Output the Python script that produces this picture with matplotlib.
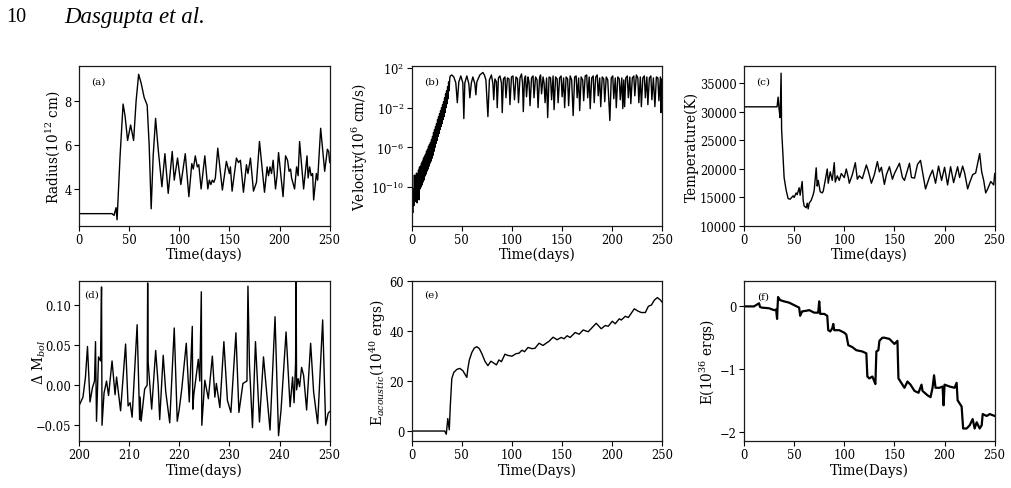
import numpy as np
import matplotlib
matplotlib.use("Agg")
import matplotlib.pyplot as plt

plt.rcParams['font.family'] = ['DejaVu Serif']
plt.rcParams['mathtext.fontset'] = 'dejavuserif'
plt.rcParams['font.size'] = 8

# ---------------- (a) Radius ----------------
radius_t = [0, 33, 35, 37, 38, 41, 44, 46, 48.5, 51.5, 54.5, 57, 59.5, 62, 65, 68, 70, 72, 74, 76.4,
            79, 82.7, 85.7, 89, 93, 95, 98.3, 101.6, 106, 109.6, 112.5, 114, 116, 118, 119.5, 121.8,
            125.5, 128.5, 130, 131.5, 133, 134.5, 136, 138.4, 143, 147, 150, 151, 152.7, 157, 159,
            161, 164, 167, 168.5, 171, 174, 175.5, 177, 180, 185, 187.6, 189, 190.5, 192, 193.6, 196,
            197.5, 199, 203.5, 206, 208, 209.5, 211, 212, 215, 217, 218.5, 220, 224, 227.4, 228.5,
            230, 231.5, 233, 234, 236.7, 238, 241, 245, 247.7, 249, 250]
radius_v = [2.88, 2.88, 2.8, 3.15, 2.6, 5.5, 7.85, 7.3, 6.2, 6.9, 6.2, 8.0, 9.2, 8.8, 8.15, 7.8, 6.0,
            3.1, 5.5, 7.2, 5.8, 4.1, 5.6, 3.8, 5.7, 4.4, 5.4, 4.2, 5.6, 3.65, 5.15, 4.9, 5.5, 5.0, 5.1,
            4.0, 5.5, 4.0, 4.4, 4.2, 4.4, 4.3, 4.5, 5.85, 3.95, 5.25, 4.7, 5.0, 3.9, 5.4, 5.2, 5.3,
            3.85, 5.1, 4.7, 5.4, 3.9, 4.1, 4.3, 6.15, 3.85, 5.0, 4.6, 5.0, 4.7, 5.3, 4.0, 4.6, 5.65,
            3.65, 5.5, 5.3, 4.8, 4.9, 4.5, 4.0, 5.0, 4.6, 6.15, 4.0, 5.5, 4.5, 5.0, 4.6, 4.7, 3.5,
            4.7, 4.4, 6.75, 4.8, 5.8, 5.7, 5.2]

# ---------------- (b) Velocity (log10 of value) ----------------
vel_t = [0, 0.6, 1.1, 1.6, 2.1, 2.7, 3.2, 3.7, 4.2, 4.8, 5.3, 5.8, 6.3, 6.8, 7.3, 7.8, 8.3, 8.8, 9.3,
         9.8, 10.3, 10.8, 11.3, 11.8, 12.3, 12.8, 13.3, 13.8, 14.3, 14.8, 15.3, 15.8, 16.3, 16.8,
         17.3, 17.8, 18.3, 18.8, 19.3, 19.8, 20.3, 20.8, 21.3, 21.8, 22.3, 22.8, 23.3, 23.8, 24.3,
         24.8, 25.3, 25.8, 26.3, 26.8, 27.3, 27.8, 28.3, 28.8, 29.3, 29.8, 30.3, 30.8, 31.3, 31.8,
         32.3, 32.8, 33.3, 33.8, 34.3, 34.8, 35.3, 35.8, 36.3, 36.8, 37.3, 38,
         38.5, 40, 42, 44, 45.5, 47, 49, 51, 52, 53, 55, 57, 58, 59.5, 61, 63, 64, 65, 68, 71, 72.5,
         74, 76, 77.5, 79.5, 81, 81.8, 83, 84.5, 85.3, 86.5, 88, 89.5, 90.3, 91.5, 93, 94, 95.5, 97,
         98, 99.5, 101, 102.5, 104, 105.5, 106.5, 108, 109.5, 110.5, 111.3, 112.5, 113.5, 114.5,
         116, 117, 118, 119.5, 121, 122, 123.5, 125, 126, 127.5, 128.5, 129.5, 131, 132, 133, 134.5,
         135.6, 137, 138.5, 139.5, 141, 142, 143.5, 145, 146, 147.5, 149, 150, 151.5, 152.5, 154,
         155.5, 156.5, 158, 159.5, 161, 162.5, 164, 165, 166.5, 167.5, 169, 170.5, 171.5, 173,
         174.5, 175.5, 177, 178, 179.5, 181, 182, 183.5, 185, 186, 187.5, 188.5, 190, 191.5, 192.5,
         194, 195.5, 197.6, 199, 200.5, 201.5, 203, 204, 205.5, 207, 208, 209.5, 210.5, 211.5,
         212.3, 213.5, 215, 216, 217.5, 218.5, 220, 221.5, 222.5, 224, 225.5, 226.5, 228, 229,
         230.5, 232, 233, 234.5, 235.5, 237, 238.5, 239.5, 241, 242.5, 244, 245.5, 246.5, 248,
         248.5, 249.3, 250]
vel_log = [-13.2, -11.8, -12.6, -10.2, -11.9, -8.8, -11.5, -8.9, -11.0, -8.6, -11.6, -8.7, -10.5,
           -8.3, -11.3, -8.0, -10.2, -7.9, -10.0, -7.6, -9.8, -7.4, -9.5, -7.1, -9.3, -6.9, -8.9,
           -6.7, -8.7, -6.4, -8.4, -6.2, -8.2, -5.9, -7.9, -5.7, -7.6, -5.5, -7.4, -5.2, -7.1, -4.9,
           -6.8, -4.5, -6.4, -4.2, -6.0, -3.9, -5.6, -3.6, -5.3, -3.2, -4.9, -2.9, -4.6, -2.6, -4.2,
           -2.3, -3.9, -2.0, -3.6, -1.7, -3.2, -1.4, -2.9, -1.0, -2.5, -0.6, -2.0, -0.3, -1.6, 0.1,
           -1.1, 0.6, -0.3, 1.0,
           1.2, 1.3, 1.1, 0.5, -1.5, 0.6, 1.2, 0.5, -3.1, 0.5, 1.2, 0.4, -1.0, 0.5, 1.1, 0.4, -0.7,
           0.6, 1.3, 1.55, 1.3, 0.8, -2.9, 0.8, 1.3, 0.4, -1.2, 0.9, 0.6, -2.0, 1.0, 1.2, 0.5, -2.5,
           0.9, 1.1, -1.0, 1.0, 0.9, -1.7, 1.1, 1.2, -1.2, 1.1, 0.9, -1.5, 1.0, 1.4, 0.5, -2.4, 0.9,
           1.2, -0.9, 1.1, 0.6, -1.8, 1.0, 1.2, -1.0, 1.1, 0.8, -2.0, 1.0, 1.3, -0.6, 1.1, 0.5, -1.5,
           1.0, -3.0, 1.1, 1.0, -1.2, 1.2, -2.2, 1.1, 0.9, -1.5, 1.0, 1.2, -0.9, 1.0, -2.0, 1.1, 0.9,
           -1.8, 1.2, 0.8, -2.8, 1.1, 1.2, -1.0, 1.0, -2.3, 1.1, 0.8, -1.3, 1.2, 1.3, -1.0, 1.1, -2.1,
           1.0, 1.2, -1.5, 1.1, 1.3, -0.8, 1.0, -1.9, 1.1, 0.9, -1.4, 1.1, 0.8, -3.3, 1.0, 1.2, -1.1,
           1.0, -2.0, 1.1, 0.9, -1.2, 1.0, -2.1, 0.8, -1.9, 1.0, 1.2, -1.0, 1.1, -1.6, 1.0, 1.2, -0.8,
           1.3, 1.0, -1.5, 1.1, -1.9, 1.0, 1.2, -1.0, 1.1, -1.7, 1.0, 1.2, -1.2, 1.0, -1.9, 1.1, 1.0,
           -1.3, 1.1, -2.5, 0.9, 0.5]

# ---------------- (c) Temperature ----------------
temp_t = [0, 33, 34, 35, 36, 37, 37.5, 40, 42, 44, 46, 49, 50, 52, 53, 55, 56, 58, 59, 60, 62, 63, 64,
          65, 67, 69, 70, 72, 73, 74, 76, 78, 79, 81, 83, 84, 86, 88, 90, 91, 93, 95, 97, 100, 102,
          104, 105, 108, 111, 113, 115, 118, 122, 124, 127, 130, 133, 135, 137, 140, 142, 145, 148,
          150, 155, 158, 160, 165, 167, 170, 173, 176, 178, 181, 185, 188, 191, 194, 197, 200, 203,
          206, 209, 213, 215, 218, 220, 223, 225, 228, 231, 235, 237, 239, 241, 243, 246, 249, 250]
temp_v = [30900, 30900, 32600, 30500, 29000, 36800, 27000, 18500, 16300, 14800, 14700, 15300, 15000,
          15800, 15500, 16700, 15400, 17800, 14500, 13500, 13200, 14000, 13000, 14000, 14500, 15500,
          16300, 20200, 17000, 18000, 16000, 15800, 16100, 18000, 20000, 17500, 19500, 18000, 21100,
          17700, 18800, 18000, 19200, 18500, 20000, 18500, 17500, 19000, 21100, 18200, 18800, 18300,
          20700, 19600, 17500, 19000, 21300, 19500, 20300, 17300, 19000, 20400, 18200, 19200, 21000,
          18500, 18000, 21000, 18500, 18400, 20800, 21500, 19500, 16500, 18600, 19800, 17500, 20500,
          18000, 20300, 17200, 20400, 17600, 20400, 18500, 20500, 19300, 16500, 17600, 19000, 19300,
          22700, 19500, 18000, 15800, 16500, 17800, 17200, 19200]

# ---------------- (d) Delta M_bol ----------------
mbol_t = [200.0, 200.8, 201.3, 201.7, 202.2, 202.7, 203.1, 203.3, 203.5, 203.9, 204.3, 204.5, 204.6,
          205.0, 205.5, 205.9, 206.6, 207.2, 207.5, 208.3, 209.3, 209.8, 210.2, 210.6, 211.6, 212.1,
          212.2, 212.4, 213.1, 213.6, 213.7, 213.8, 214.5, 215.3, 215.8, 216.1, 216.8, 217.3, 218.1,
          219.0, 219.6, 220.0, 220.5, 221.4, 222.0, 222.6, 222.7, 222.9, 223.8, 224.1, 224.4, 224.5,
          225.1, 225.8, 226.6, 227.1, 227.4, 228.1, 228.9, 229.6, 230.3, 231.3, 231.9, 232.7, 233.5,
          233.7, 234.0, 234.6, 235.2, 236.0, 236.8, 237.3, 238.1, 239.1, 239.8, 240.3, 241.3, 242.1,
          242.6, 242.9, 243.2, 243.3, 243.4, 243.7, 244.0, 244.4, 244.8, 245.4, 246.2, 246.8, 247.6,
          248.6, 249.2, 249.7, 250.0]
mbol_v = [-0.026, -0.015, 0.010, 0.048, -0.021, -0.003, 0.005, 0.054, -0.045, 0.035, 0.030, 0.122,
          -0.050, -0.010, 0.005, -0.013, 0.030, -0.012, 0.010, -0.032, 0.051, -0.026, -0.022, -0.040,
          0.075, -0.043, -0.015, -0.045, -0.005, 0.000, 0.127, 0.028, -0.030, 0.043, 0.000, -0.043,
          0.037, -0.008, -0.047, 0.071, -0.045, -0.030, -0.005, 0.052, -0.021, 0.073, -0.030, -0.012,
          0.032, 0.005, 0.116, -0.050, 0.006, -0.017, 0.036, -0.015, 0.002, -0.028, 0.054, -0.019,
          -0.034, 0.065, -0.034, 0.002, 0.005, 0.123, 0.025, -0.053, 0.054, -0.046, 0.035, 0.000,
          -0.056, 0.085, -0.063, -0.031, 0.066, -0.027, 0.010, -0.022, 0.027, 0.140, -0.006, 0.008,
          -0.002, 0.022, 0.012, -0.031, 0.052, -0.009, -0.048, 0.081, -0.050, -0.035, -0.033]

# ---------------- (e) Acoustic energy ----------------
eac_t = [0, 33, 34.5, 36, 37.5, 38.5, 40, 42, 45, 48, 51, 53.5, 55, 56, 57.5, 60, 62.5, 65, 67.5, 70,
         73, 76, 79, 82, 84.5, 87, 89.5, 93, 96, 100, 104, 107, 110, 112.5, 116, 120, 123, 127, 131,
         134, 137, 141, 145, 149, 152, 155, 158, 163, 167, 171, 176, 180, 184, 189, 193, 196, 200,
         203, 207, 209, 213, 216, 222, 226, 229, 233, 236, 239, 242, 245, 248, 250]
eac_v = [0, 0, -1.3, 5.0, 0.5, 10, 21, 23.5, 24.7, 25.1, 24.2, 22.5, 21.5, 25, 28.5, 31.5, 33.3, 33.8,
         33.0, 31.0, 28.0, 26.2, 28.0, 27.2, 26.5, 28.5, 27.8, 30.8, 30.3, 30.0, 31.0, 31.2, 32.4,
         31.8, 33.5, 33.0, 33.2, 35.2, 34.3, 35.2, 36.0, 37.6, 36.6, 37.5, 37.0, 38.2, 37.5, 39.5,
         38.8, 40.5, 39.8, 41.5, 43.2, 41.0, 42.3, 42.0, 44.0, 43.0, 45.0, 44.5, 46.0, 45.5, 49.0,
         48.0, 47.5, 47.5, 50.0, 50.5, 52.5, 53.5, 52.5, 51.5]

# ---------------- (f) Energy ----------------
en_t = [0, 10, 15, 16, 18, 25, 30, 32, 33, 33.5, 34, 36, 40, 45, 50, 55, 56, 58, 62, 65, 70, 74, 75,
        76, 80, 83, 84, 86, 88, 89, 90, 95, 100, 102, 104, 108, 112, 118, 122, 123, 125, 128, 130,
        131, 132, 134, 135, 138, 140, 145, 150, 153, 154, 156, 160, 163, 166, 170, 174, 177, 178,
        183, 186, 188, 189.5, 191, 195, 198, 199, 200, 205, 210, 212, 213, 217, 218.5, 222, 225,
        228, 230, 232, 235, 237, 238, 242, 245, 250]
en_v = [0.0, 0.0, 0.05, -0.01, -0.02, -0.03, -0.06, -0.05, -0.2, 0.0, 0.15, 0.1, 0.08, 0.06, 0.02,
        -0.02, -0.15, -0.08, -0.07, -0.06, -0.1, -0.1, 0.08, -0.12, -0.12, -0.15, -0.38, -0.4,
        -0.35, -0.28, -0.38, -0.38, -0.42, -0.45, -0.62, -0.65, -0.7, -0.72, -0.75, -1.12, -1.15,
        -1.12, -1.2, -1.24, -0.72, -0.7, -0.55, -0.5, -0.5, -0.52, -0.6, -0.55, -1.15, -1.2, -1.3,
        -1.2, -1.25, -1.35, -1.38, -1.25, -1.35, -1.42, -1.45, -1.3, -1.1, -1.3, -1.3, -1.28,
        -1.58, -1.25, -1.28, -1.3, -1.22, -1.5, -1.6, -1.95, -1.95, -1.9, -1.8, -1.95, -1.85,
        -1.95, -1.9, -1.72, -1.75, -1.72, -1.75]

fig = plt.figure(figsize=(10.11, 4.89), dpi=100)

W = 0.2480
H = 0.3265
lefts = [0.0781, 0.4072, 0.7359]
bottoms = [0.5358, 0.0961]
axs = [[fig.add_axes([l, b, W, H]) for l in lefts] for b in bottoms]

TICK_FS = 8.3
LAB_FS = 9.8


def style(ax, tag, ylab_x, xlab_y, tx=0.05, ty=0.91):
    for s in ax.spines.values():
        s.set_linewidth(0.9)
        s.set_color('#1a1a1a')
    ax.tick_params(direction='out', length=3.5, width=0.8, labelsize=TICK_FS,
                   top=False, right=False, pad=1.8)
    ax.text(tx, ty, tag, transform=ax.transAxes, fontsize=7.5, va='center', ha='left')
    ax.yaxis.set_label_coords(ylab_x, 0.5)
    ax.yaxis.label.set_va('center')
    ax.xaxis.set_label_coords(0.5, xlab_y)
    ax.xaxis.label.set_va('center')


lw = 1.0
ticks250 = [0, 50, 100, 150, 200, 250]

# (a)
ax = axs[0][0]
ax.plot(radius_t, radius_v, color='black', lw=lw)
ax.set_xlim(0, 250)
ax.set_ylim(2.32, 9.56)
ax.set_xticks(ticks250)
ax.set_yticks([4, 6, 8])
ax.set_xlabel('Time(days)', fontsize=LAB_FS)
ax.set_ylabel('Radius(10$^{12}$ cm)', fontsize=LAB_FS)
style(ax, '(a)', -0.104, -0.175)

# (b)
ax = axs[0][1]
ax.plot(vel_t, 10.0 ** np.array(vel_log), color='black', lw=lw)
ax.set_yscale('log')
ax.set_xlim(0, 250)
ax.set_ylim(10 ** -13.94, 10 ** 2.17)
ax.set_yticks([1e-10, 1e-6, 1e-2, 1e2])
ax.minorticks_off()
ax.set_xticks(ticks250)
ax.set_xlabel('Time(days)', fontsize=LAB_FS)
ax.set_ylabel('Velocity(10$^{6}$ cm/s)', fontsize=LAB_FS)
style(ax, '(b)', -0.205, -0.175)

# (c)
ax = axs[0][2]
ax.plot(temp_t, temp_v, color='black', lw=lw)
ax.set_xlim(0, 250)
ax.set_ylim(10000, 38000)
ax.set_yticks([10000, 15000, 20000, 25000, 30000, 35000])
ax.set_xticks(ticks250)
ax.set_xlabel('Time(days)', fontsize=LAB_FS)
ax.set_ylabel('Temperature(K)', fontsize=LAB_FS)
style(ax, '(c)', -0.207, -0.175)

# (d)
ax = axs[1][0]
ax.plot(mbol_t, mbol_v, color='black', lw=lw)
ax.set_xlim(200, 250)
ax.set_ylim(-0.0696, 0.129)
ax.set_xticks([200, 210, 220, 230, 240, 250])
ax.set_yticks([-0.05, 0.0, 0.05, 0.10])
ax.set_yticklabels(['\u22120.05', '0.00', '0.05', '0.10'])
ax.set_xlabel('Time(days)', fontsize=LAB_FS)
ax.set_ylabel('$\\Delta$ M$_{bol}$', fontsize=LAB_FS)
style(ax, '(d)', -0.158, -0.182, tx=0.02, ty=0.92)

# (e)
ax = axs[1][1]
ax.plot(eac_t, eac_v, color='black', lw=lw)
ax.set_xlim(0, 250)
ax.set_ylim(-4, 60)
ax.set_yticks([0, 20, 40, 60])
ax.set_xticks(ticks250)
ax.set_xlabel('Time(Days)', fontsize=LAB_FS)
ax.set_ylabel('E$_{acoustic}$(10$^{40}$ ergs)', fontsize=LAB_FS)
style(ax, '(e)', -0.135, -0.182, tx=0.05, ty=0.92)

# (f)
ax = axs[1][2]
ax.plot(en_t, en_v, color='black', lw=1.6)
ax.set_xlim(0, 250)
ax.set_ylim(-2.15, 0.4)
ax.set_yticks([-2, -1, 0])
ax.set_xticks(ticks250)
ax.set_xlabel('Time(Days)', fontsize=LAB_FS)
ax.set_ylabel('E(10$^{36}$ ergs)', fontsize=LAB_FS)
style(ax, '(f)', -0.143, -0.182, tx=0.053, ty=0.91)

fig.text(0.006, 0.965, '10', family='Liberation Serif', fontsize=14.5, va='center', ha='left')
fig.text(0.064, 0.965, 'Dasgupta et al.', family='Liberation Serif', style='italic',
         fontsize=16.5, va='center', ha='left')

fig.savefig('out.png', dpi=100)
